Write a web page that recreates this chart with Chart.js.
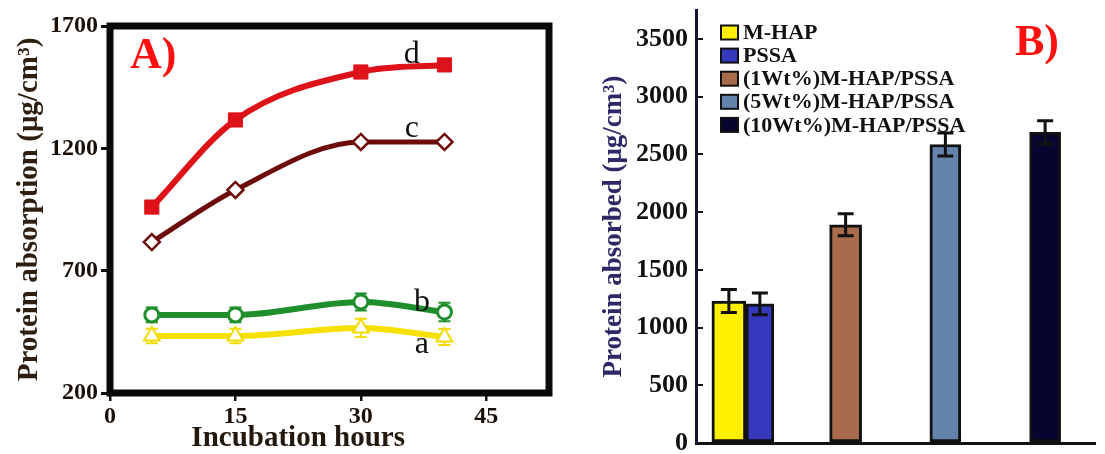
<!DOCTYPE html>
<html>
<head>
<meta charset="utf-8">
<script src="https://cdn.jsdelivr.net/npm/chart.js@4.4.0/dist/chart.umd.min.js"></script>
<style>
  body { margin: 0; background: #fff; }
  #wrap { position: relative; width: 1105px; height: 454px; overflow: hidden; }
  #chartA { position: absolute; left: 0; top: 0; }
  #chartB { position: absolute; left: 560px; top: 0; }
</style>
</head>
<body>
<div id="wrap">
  <canvas id="chartA" width="560" height="454"></canvas>
  <canvas id="chartB" width="545" height="454"></canvas>
</div>
<script>
// ---- panel A data: protein absorption vs incubation time ----
var hours = [5, 15, 30, 40];
var seriesA = [433, 433, 466, 429];
var seriesB = [519, 519, 572, 531];
var seriesC = [817, 1030, 1226, 1226];
var seriesD = [960, 1316, 1512, 1541];
var errA = [30, 30, 37, 33];
var errB = [30, 30, 35, 38];
var xTicksA = [0, 15, 30, 45];
var yTicksA = [200, 700, 1200, 1700];

// ---- panel B data: protein absorbed per material ----
var materials = ['M-HAP', 'PSSA', '(1Wt%)M-HAP/PSSA', '(5Wt%)M-HAP/PSSA', '(10Wt%)M-HAP/PSSA'];
var absorbed = [1230, 1205, 1890, 2585, 2690];
var absorbedErr = [100, 95, 95, 100, 100];
var barGroup = [0, 0, 1, 2, 3];
var slots = ['', '', '', ''];
var yTicksB = [0, 500, 1000, 1500, 2000, 2500, 3000, 3500];

// styles
var serif = '"Liberation Serif", "Times New Roman", serif';
var barColors = ['#fff000', '#3538bd', '#a86b4b', '#6383ad', '#05052f'];
var barWidth = [34, 28, 32, 31, 31];

Chart.defaults.font.family = serif;
Chart.defaults.animation = false;

function pts(vals) {
    return hours.map(function(h, i) { return {x: h, y: vals[i]}; });
}
function plain(v) { return String(v); }
function noPad(s) { s.paddingTop = 0; s.paddingBottom = 0; }

// box round the plot + error bars under the lines
var frameA = {
    id: 'frameA',
    beforeDatasetsDraw: function(chart) {
        var ctx = chart.ctx, a = chart.chartArea, ys = chart.scales.y;
        ctx.save();
        ctx.lineWidth = 7;
        ctx.strokeStyle = '#0a0a0a';
        ctx.strokeRect(a.left, a.top, a.right - a.left, a.bottom - a.top);

        [[seriesA, errA, '#f2dc00'], [seriesB, errB, '#1f8f2c']].forEach(function(s, k) {
            var meta = chart.getDatasetMeta(k);
            ctx.strokeStyle = s[2];
            ctx.lineWidth = 2;
            meta.data.forEach(function(p, i) {
                var t = ys.getPixelForValue(s[0][i] + s[1][i]);
                var b = ys.getPixelForValue(s[0][i] - s[1][i]);
                ctx.beginPath();
                ctx.moveTo(p.x, t); ctx.lineTo(p.x, b);
                ctx.moveTo(p.x - 6, t); ctx.lineTo(p.x + 6, t);
                ctx.moveTo(p.x - 6, b); ctx.lineTo(p.x + 6, b);
                ctx.stroke();
            });
        });
        ctx.restore();
    },
    afterDatasetsDraw: function(chart) {
        var ctx = chart.ctx, a = chart.chartArea, xs = chart.scales.x, ys = chart.scales.y;
        ctx.save();
        // series letters next to the curves
        var labelAt = [37.3, 37.3, 36.1, 36.1];
        var labelShift = [18, 2, -5, -5];
        ctx.font = '32px ' + serif;
        ctx.fillStyle = '#111';
        ctx.textAlign = 'center';
        ctx.textBaseline = 'alphabetic';
        chart.data.datasets.forEach(function(ds, k) {
            var v = ds.data[2].y + (ds.data[3].y - ds.data[2].y) * (labelAt[k] - ds.data[2].x) / (ds.data[3].x - ds.data[2].x);
            ctx.fillText(ds.label, xs.getPixelForValue(labelAt[k]), ys.getPixelForValue(v) + labelShift[k]);
        });
        // panel letter
        ctx.font = 'bold 44px ' + serif;
        ctx.fillStyle = '#ff1010';
        ctx.textAlign = 'left';
        ctx.fillText('A)', a.left + 20, a.top + 42);
        // x title, centred under the labelled ticks
        ctx.font = 'bold 29px ' + serif;
        ctx.fillStyle = '#24170c';
        ctx.textAlign = 'center';
        var mid = (xTicksA[0] + xTicksA[xTicksA.length - 1]) / 2;
        ctx.fillText('Incubation hours', xs.getPixelForValue(mid), a.bottom + 53);
        ctx.restore();
    }
};

new Chart(document.getElementById('chartA'), {
    type: 'line',
    data: {
        datasets: [{
            label: 'a', data: pts(seriesA),
            borderColor: '#f6e000', borderWidth: 6,
            pointStyle: 'triangle', pointRadius: 9,
            pointBackgroundColor: '#fff', pointBorderColor: '#f2dc00', pointBorderWidth: 2,
            cubicInterpolationMode: 'monotone'
        }, {
            label: 'b', data: pts(seriesB),
            borderColor: '#1f8f2c', borderWidth: 6,
            pointStyle: 'circle', pointRadius: 7,
            pointBackgroundColor: '#fff', pointBorderColor: '#1f8f2c', pointBorderWidth: 3,
            cubicInterpolationMode: 'monotone'
        }, {
            label: 'c', data: pts(seriesC),
            borderColor: '#6d0a0a', borderWidth: 5,
            pointStyle: 'rectRot', pointRadius: 8,
            pointBackgroundColor: '#fff', pointBorderColor: '#6d0a0a', pointBorderWidth: 2.5,
            cubicInterpolationMode: 'monotone'
        }, {
            label: 'd', data: pts(seriesD),
            borderColor: '#de1219', borderWidth: 6,
            pointStyle: 'rect', pointRadius: 10,
            pointBackgroundColor: '#de1219', pointBorderColor: '#de1219', pointBorderWidth: 1,
            cubicInterpolationMode: 'monotone'
        }]
    },
    options: {
        responsive: false,
        layout: {padding: {left: 0, right: 5, top: 26, bottom: 0}},
        plugins: {legend: {display: false}, tooltip: {enabled: false}},
        scales: {
            x: {
                type: 'linear', min: 0, max: 52.5,
                afterBuildTicks: function(s) { s.ticks = xTicksA.map(function(v) { return {value: v}; }); },
                afterFit: function(s) { s.height = 61; s.paddingLeft = 0; s.paddingRight = 0; },
                border: {display: false},
                grid: {drawOnChartArea: false, drawTicks: true, tickLength: 8, color: '#111', lineWidth: 2.5},
                ticks: {padding: 1, color: '#1a1008', font: {size: 24, weight: 'bold'}, callback: plain}
            },
            y: {
                min: 200, max: 1700,
                afterBuildTicks: function(s) { s.ticks = yTicksA.map(function(v) { return {value: v}; }); },
                afterFit: function(s) { s.width = 110; noPad(s); },
                border: {display: false},
                grid: {drawOnChartArea: false, drawTicks: true, tickLength: 9, color: '#111', lineWidth: 3},
                ticks: {padding: 3, color: '#1a1008', font: {size: 24, weight: 'bold'}, callback: plain},
                title: {
                    display: true, text: 'Protein absorption (μg/cm³)',
                    color: '#2e1f10', font: {size: 29, weight: 'bold'},
                    padding: {top: 12, bottom: 0}
                }
            }
        }
    },
    plugins: [frameA]
});

// ---- panel B ----
var extrasB = {
    id: 'extrasB',
    afterDatasetsDraw: function(chart) {
        var ctx = chart.ctx, a = chart.chartArea, ys = chart.scales.y;
        ctx.save();
        // error bars
        ctx.strokeStyle = '#111';
        ctx.lineWidth = 3;
        materials.forEach(function(m, i) {
            var bar = chart.getDatasetMeta(i).data[barGroup[i]];
            var t = ys.getPixelForValue(absorbed[i] + absorbedErr[i]);
            var b = ys.getPixelForValue(absorbed[i] - absorbedErr[i]);
            ctx.beginPath();
            ctx.moveTo(bar.x, t); ctx.lineTo(bar.x, b);
            ctx.moveTo(bar.x - 8, t); ctx.lineTo(bar.x + 8, t);
            ctx.moveTo(bar.x - 8, b); ctx.lineTo(bar.x + 8, b);
            ctx.stroke();
        });
        // legend
        var lx = a.left + 25, ly = a.top + 22.5;
        ctx.font = 'bold 22px ' + serif;
        ctx.textBaseline = 'middle';
        ctx.textAlign = 'left';
        chart.data.datasets.forEach(function(ds, i) {
            var cy = ly + i * 23.1;
            ctx.fillStyle = ds.backgroundColor;
            ctx.fillRect(lx, cy - 7, 17, 14);
            ctx.lineWidth = 2;
            ctx.strokeStyle = '#111';
            ctx.strokeRect(lx, cy - 7, 17, 14);
            ctx.fillStyle = '#111';
            ctx.fillText(ds.label, lx + 22, cy + 1);
        });
        // panel letter
        ctx.font = 'bold 44px ' + serif;
        ctx.fillStyle = '#ff1010';
        ctx.textBaseline = 'alphabetic';
        ctx.fillText('B)', a.right - 80, a.top + 45);
        ctx.restore();
    }
};

new Chart(document.getElementById('chartB'), {
    type: 'bar',
    data: {
        labels: slots,
        datasets: materials.map(function(m, i) {
            return {
                label: m,
                data: slots.map(function(s, j) { return j === barGroup[i] ? absorbed[i] : null; }),
                backgroundColor: barColors[i],
                borderColor: '#111',
                borderWidth: 3,
                borderSkipped: false,
                barThickness: barWidth[i],
                skipNull: true
            };
        })
    },
    options: {
        responsive: false,
        layout: {padding: {left: 0, right: 10, top: 10, bottom: 11}},
        plugins: {legend: {display: false}, tooltip: {enabled: false}},
        scales: {
            x: {
                afterFit: function(s) { s.height = 0; s.paddingLeft = 0; s.paddingRight = 0; },
                border: {display: true, color: '#111', width: 3},
                grid: {display: false},
                ticks: {display: false}
            },
            y: {
                min: 0, max: 3750,
                afterBuildTicks: function(s) { s.ticks = yTicksB.map(function(v) { return {value: v}; }); },
                afterFit: function(s) { s.width = 136; noPad(s); },
                border: {display: true, color: '#14143a', width: 3},
                grid: {drawOnChartArea: false, drawTicks: true, tickLength: -7, color: '#111', lineWidth: 2},
                ticks: {padding: 15, color: '#111', font: {size: 26, weight: 'bold'}, callback: plain},
                title: {
                    display: true, text: 'Protein absorbed (μg/cm³)',
                    color: '#2d2866', font: {size: 27, weight: 'bold'},
                    padding: {top: 38, bottom: 0}
                }
            }
        }
    },
    plugins: [extrasB]
});
</script>
</body>
</html>
